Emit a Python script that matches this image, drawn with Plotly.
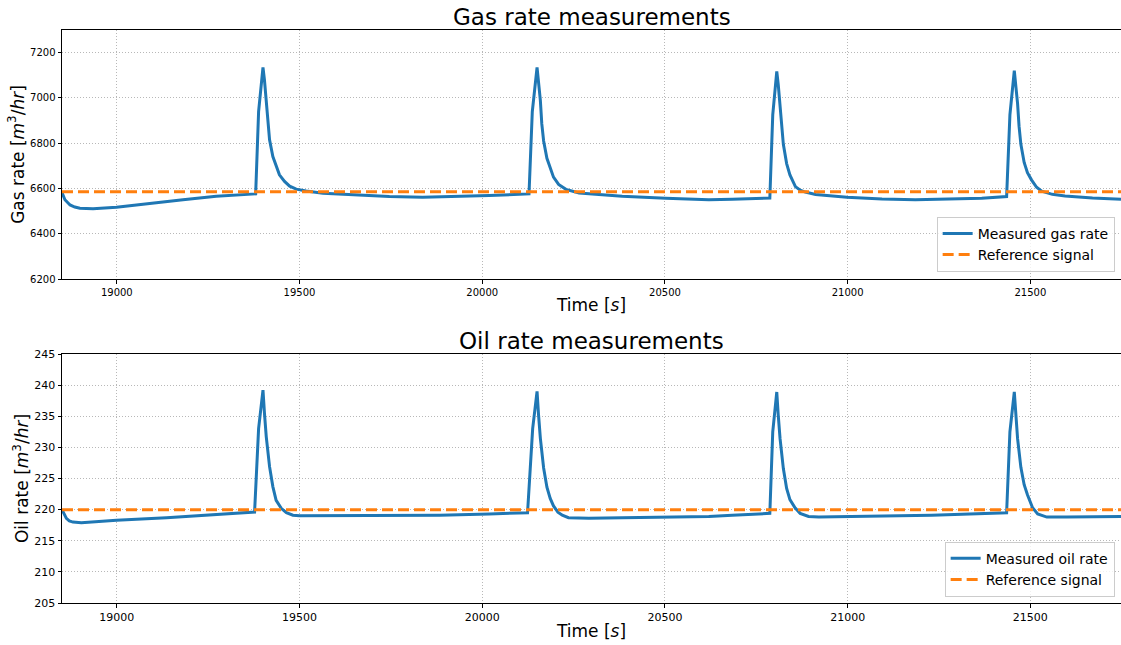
import plotly.graph_objects as go

# ---------------- data ----------------
gas_time = [18850, 18858, 18872, 18885, 18899, 18935, 18999, 19090, 19181, 19272, 19380,
            19388, 19400, 19404, 19409, 19413, 19418, 19427, 19436, 19445, 19459, 19473, 19491,
            19518, 19564, 19655, 19746, 19837, 19928, 20019, 20128,
            20137, 20150, 20154, 20159, 20163, 20168, 20177, 20186, 20195, 20209, 20229, 20265,
            20320, 20383, 20502, 20593, 20620, 20684, 20787,
            20795, 20806, 20810, 20815, 20819, 20824, 20833, 20842, 20857, 20870, 20884, 20912,
            20998, 21094, 21185, 21276, 21367, 21435,
            21444, 21456, 21460, 21465, 21469, 21474, 21483, 21492, 21503, 21517, 21531, 21560,
            21595, 21670, 21748]
gas_rate = [6582, 6550, 6527, 6518, 6513, 6510, 6517, 6532, 6550, 6566, 6576,
            6940, 7135, 7080, 6992, 6889, 6815, 6741, 6697, 6660, 6631, 6610, 6597,
            6589, 6579, 6570, 6564, 6561, 6564, 6569, 6576,
            6940, 7135, 7080, 6990, 6885, 6810, 6733, 6688, 6650, 6618, 6596, 6580,
            6572, 6566, 6557, 6551, 6550, 6552, 6558,
            6925, 7117, 7060, 6975, 6875, 6795, 6710, 6660, 6608, 6592, 6584, 6573,
            6561, 6553, 6550, 6552, 6557, 6564,
            6925, 7120, 7062, 6975, 6875, 6795, 6715, 6670, 6638, 6605, 6588, 6574,
            6567, 6558, 6552]

oil_time = [18850, 18856, 18862, 18870, 18880, 18903, 18954, 18999, 19136, 19272, 19377,
            19388, 19400, 19404, 19409, 19418, 19427, 19436, 19450, 19464, 19482, 19500,
            19609, 19746, 19883, 20019, 20124,
            20138, 20150, 20154, 20159, 20168, 20177, 20186, 20195, 20207, 20219, 20236,
            20292, 20383, 20620, 20684, 20787,
            20795, 20806, 20810, 20815, 20824, 20833, 20842, 20856, 20870, 20893, 20921,
            21048, 21230, 21435,
            21444, 21456, 21460, 21465, 21474, 21483, 21492, 21506, 21520, 21545, 21600, 21748]
oil_rate = [220.0, 219.2, 218.6, 218.2, 218.0, 217.9, 218.1, 218.3, 218.7, 219.2, 219.6,
            233.0, 239.2, 235.5, 231.7, 226.9, 223.7, 221.5, 220.2, 219.5, 219.1, 219.0,
            219.0, 219.0, 219.1, 219.3, 219.5,
            233.0, 239.0, 235.3, 231.5, 226.7, 223.6, 221.8, 220.6, 219.6, 219.1, 218.7,
            218.6, 218.7, 218.9, 219.1, 219.4,
            232.5, 238.9, 235.2, 231.4, 226.6, 223.4, 221.6, 220.3, 219.4, 218.9, 218.8,
            218.9, 219.1, 219.5,
            232.5, 238.9, 235.2, 231.4, 226.8, 224.0, 222.4, 220.3, 219.3, 218.8, 218.8, 218.9]

ref_time = [18850, 21748]
gas_ref = [6585, 6585]
oil_ref = [220, 220]

x_range = [18850, 21748]
gas_yrange = [6200, 7300]
oil_yrange = [205, 245]
x_ticks = [19000, 19500, 20000, 20500, 21000, 21500]
x_ticklabels = ["19000", "19500", "20000", "20500", "21000", "21500"]
gas_yticks = [6200, 6400, 6600, 6800, 7000, 7200]
gas_yticklabels = ["6200", "6400", "6600", "6800", "7000", "7200"]
oil_yticks = [205, 210, 215, 220, 225, 230, 235, 240, 245]
oil_yticklabels = ["205", "210", "215", "220", "225", "230", "235", "240", "245"]

# ---------------- figure ----------------
BLUE = "#1f77b4"
ORANGE = "#ff7f0e"
FONT = "DejaVu Sans"

fig = go.Figure()
fig.add_trace(go.Scatter(x=gas_time, y=gas_rate, mode="lines", name="Measured gas rate",
                         line=dict(color=BLUE, width=3), xaxis="x", yaxis="y", legend="legend"))
fig.add_trace(go.Scatter(x=ref_time, y=gas_ref, mode="lines", name="Reference signal",
                         line=dict(color=ORANGE, width=3, dash="11px,5px"), xaxis="x", yaxis="y",
                         legend="legend"))
fig.add_trace(go.Scatter(x=oil_time, y=oil_rate, mode="lines", name="Measured oil rate",
                         line=dict(color=BLUE, width=3), xaxis="x2", yaxis="y2", legend="legend2"))
fig.add_trace(go.Scatter(x=ref_time, y=oil_ref, mode="lines", name="Reference signal",
                         line=dict(color=ORANGE, width=3, dash="11px,5px"), xaxis="x2", yaxis="y2",
                         legend="legend2"))

W, H = 1121, 645
L, R, T, B = 62, 0, 30, 42
ph = H - T - B
top_dom = [(603 - 279) / ph, 1.0]
bot_dom = [0.0, (603 - 354) / ph]

axis_common = dict(showline=True, linecolor="black", linewidth=1, mirror=True,
                   ticks="outside", ticklen=3.5, tickwidth=0.8, tickcolor="black",
                   showgrid=True, gridcolor="#b8b8b8", gridwidth=0.8, griddash="1px,2px",
                   zeroline=False, automargin=False)

fig.update_layout(
    width=W, height=H,
    margin=dict(l=L, r=R, t=T, b=B, autoexpand=False),
    paper_bgcolor="white", plot_bgcolor="white",
    font=dict(family=FONT, color="black"),
    xaxis=dict(domain=[0, 1], anchor="y", range=x_range, tickvals=x_ticks, ticktext=x_ticklabels,
               tickfont=dict(size=10), title=dict(text="Time [<i>s</i>]", font=dict(size=17), standoff=2),
               **axis_common),
    yaxis=dict(domain=top_dom, anchor="x", range=gas_yrange, tickvals=gas_yticks,
               ticktext=gas_yticklabels, tickfont=dict(size=10),
               title=dict(text="Gas rate [<i>m</i><sup>3</sup>/<i>hr</i>]", font=dict(size=17), standoff=1),
               **axis_common),
    xaxis2=dict(domain=[0, 1], anchor="y2", range=x_range, tickvals=x_ticks, ticktext=x_ticklabels,
                tickfont=dict(size=11), title=dict(text="Time [<i>s</i>]", font=dict(size=17), standoff=2),
                **axis_common),
    yaxis2=dict(domain=bot_dom, anchor="x2", range=oil_yrange, tickvals=oil_yticks,
                ticktext=oil_yticklabels, tickfont=dict(size=11),
                title=dict(text="Oil rate [<i>m</i><sup>3</sup>/<i>hr</i>]", font=dict(size=17), standoff=1),
                **axis_common),
    legend=dict(x=0.994, y=0.578, xanchor="right", yanchor="bottom",
                bgcolor="rgba(255,255,255,0.8)", bordercolor="#cccccc", borderwidth=1,
                font=dict(size=14), tracegroupgap=0),
    legend2=dict(x=0.994, y=0.011, xanchor="right", yanchor="bottom",
                 bgcolor="rgba(255,255,255,0.8)", bordercolor="#cccccc", borderwidth=1,
                 font=dict(size=14), tracegroupgap=0),
    showlegend=True,
    annotations=[
        dict(text="Gas rate measurements", x=0.5, y=top_dom[1], xref="paper", yref="paper",
             xanchor="center", yanchor="bottom", showarrow=False, font=dict(size=23), yshift=-2),
        dict(text="Oil rate measurements", x=0.5, y=bot_dom[1], xref="paper", yref="paper",
             xanchor="center", yanchor="bottom", showarrow=False, font=dict(size=23), yshift=-2),
    ],
)

fig.write_html(
    "out.html",
    config={"displayModeBar": False},
    post_script="document.body.style.margin='0';document.body.style.overflow='hidden';",
)
